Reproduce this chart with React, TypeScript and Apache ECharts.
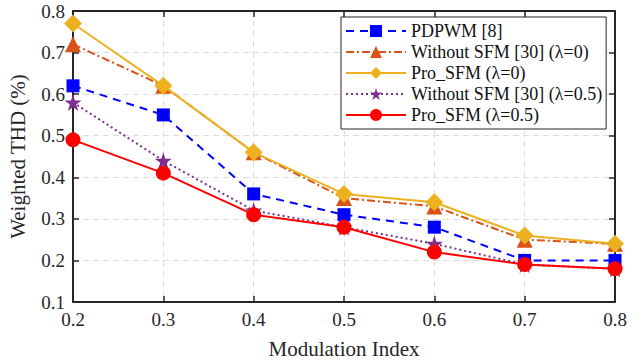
import React, { useEffect, useRef } from "react";
import * as echarts from "echarts";

const categories = ["0.2", "0.3", "0.4", "0.5", "0.6", "0.7", "0.8"];
const seriesNames = [
  "PDPWM [8]",
  "Without SFM [30] (λ=0)",
  "Pro_SFM (λ=0)",
  "Without SFM [30] (λ=0.5)",
  "Pro_SFM (λ=0.5)",
];
const pdpwm = [0.62, 0.55, 0.36, 0.31, 0.28, 0.2, 0.2];
const withoutL0 = [0.72, 0.62, 0.46, 0.35, 0.33, 0.25, 0.24];
const proL0 = [0.77, 0.62, 0.46, 0.36, 0.34, 0.26, 0.24];
const withoutL05 = [0.58, 0.44, 0.32, 0.28, 0.24, 0.19, 0.18];
const proL05 = [0.49, 0.41, 0.31, 0.28, 0.22, 0.19, 0.18];

const STAR = "path://M50,0 L61,35 L98,35 L68,57 L79,91 L50,70 L21,91 L32,57 L2,35 L39,35 Z";
const FONT = "'Times New Roman', 'Liberation Serif', serif";

export default function App() {
  const ref = useRef<HTMLDivElement>(null);
  useEffect(() => {
    const chart = echarts.init(ref.current!, null, { renderer: "svg" });
    const axisLine = { show: true, lineStyle: { color: "#262626", width: 2 } };
    const split = { show: true, lineStyle: { color: "#dddddd", type: [6, 4], width: 1 } };
    const tick = { show: true, inside: true, length: 6, lineStyle: { color: "#262626", width: 1.5 } };
    const legendText = { fontFamily: FONT, fontSize: 18, color: "#111111" };
    chart.setOption({
      animation: false,
      backgroundColor: "#ffffff",
      textStyle: { fontFamily: FONT },
      grid: { left: 73, right: 27, top: 11, bottom: 58, containLabel: false, outerBoundsMode: "none" },
      legend: {
        orient: "vertical",
        left: 341,
        top: 17,
        itemWidth: 60,
        itemHeight: 15,
        itemGap: 3,
        padding: [5, 4, 5, 4],
        backgroundColor: "#ffffff",
        borderColor: "#262626",
        borderWidth: 1,
        textStyle: legendText,
        data: seriesNames.map((n) => ({ name: n, textStyle: legendText })),
      },
      xAxis: [
        {
          type: "category",
          data: categories,
          boundaryGap: false,
          name: "Modulation Index",
          nameLocation: "middle",
          nameGap: 36,
          nameTextStyle: { fontFamily: FONT, fontSize: 21, color: "#262626" },
          axisLine,
          axisTick: tick,
          axisLabel: { fontFamily: FONT, fontSize: 19, color: "#262626", margin: 8 },
          splitLine: split,
        },
        {
          type: "category",
          data: categories,
          boundaryGap: false,
          position: "top",
          axisLine,
          axisTick: tick,
          axisLabel: { show: false },
          splitLine: { show: false },
        },
      ],
      yAxis: [
        {
          type: "value",
          min: 0.1,
          max: 0.8,
          interval: 0.1,
          name: "Weighted THD (%)",
          nameLocation: "middle",
          nameGap: 45,
          nameTextStyle: { fontFamily: FONT, fontSize: 21, color: "#262626" },
          axisLine,
          axisTick: tick,
          axisLabel: {
            fontFamily: FONT,
            fontSize: 19,
            color: "#262626",
            margin: 8,
            formatter: (v: number) => v.toFixed(1),
          },
          splitLine: split,
        },
        {
          type: "value",
          min: 0.1,
          max: 0.8,
          interval: 0.1,
          position: "right",
          axisLine,
          axisTick: tick,
          axisLabel: { show: false },
          splitLine: { show: false },
        },
      ],
      series: [
        {
          name: seriesNames[0],
          type: "line",
          data: pdpwm,
          symbol: "rect",
          symbolSize: 13,
          color: "#0000ff",
          lineStyle: { width: 2, type: [8, 6], color: "#0000ff" },
          itemStyle: { color: "#0000ff" },
          z: 3,
        },
        {
          name: seriesNames[1],
          type: "line",
          data: withoutL0,
          symbol: "triangle",
          symbolSize: 16,
          color: "#d95319",
          lineStyle: { width: 2, type: [8, 3, 2, 3], color: "#d95319" },
          itemStyle: { color: "#d95319" },
          z: 2,
        },
        {
          name: seriesNames[2],
          type: "line",
          data: proL0,
          symbol: "diamond",
          symbolSize: 18,
          color: "#edb120",
          lineStyle: { width: 2, type: "solid", color: "#edb120" },
          itemStyle: { color: "#edb120" },
          z: 4,
        },
        {
          name: seriesNames[3],
          type: "line",
          data: withoutL05,
          symbol: STAR,
          symbolSize: 17,
          color: "#7e2f8e",
          lineStyle: { width: 2, type: [2, 3], color: "#7e2f8e" },
          itemStyle: { color: "#7e2f8e" },
          z: 3,
        },
        {
          name: seriesNames[4],
          type: "line",
          data: proL05,
          symbol: "circle",
          symbolSize: 15,
          color: "#ff0000",
          lineStyle: { width: 2, type: "solid", color: "#ff0000" },
          itemStyle: { color: "#ff0000" },
          z: 5,
        },
      ],
    });
    return () => chart.dispose();
  }, []);
  return <div ref={ref} style={{ width: 642, height: 360, position: "absolute", left: 0, top: 0 }} />;
}
